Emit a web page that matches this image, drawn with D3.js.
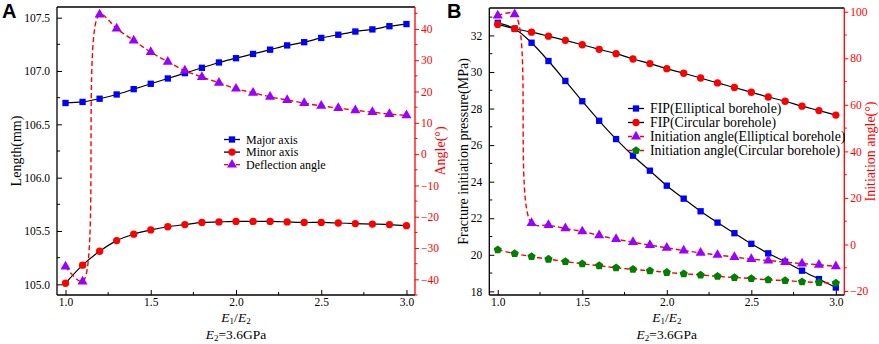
<HTML>
<head>
    <script src="https://d3js.org/d3.v7.min.js"></script>
    <style>
        html, body { margin: 0; padding: 0; background: #fff; }
        svg { display: block; }
    </style>
</head>
<body>
<svg id="chart" width="879" height="344"></svg>
<script>
    // ratio E1/E2, same for every series
    const ratio = [1.0,1.1,1.2,1.3,1.4,1.5,1.6,1.7,1.8,1.9,2.0,2.1,2.2,2.3,2.4,2.5,2.6,2.7,2.8,2.9,3.0];

    // panel A
    const majorAxis = [106.70,106.71,106.74,106.78,106.83,106.88,106.93,106.98,107.03,107.08,107.12,107.16,107.20,107.24,107.27,107.31,107.34,107.37,107.39,107.42,107.44];
    const minorAxis = [105.01,105.18,105.31,105.41,105.47,105.51,105.54,105.56,105.58,105.585,105.59,105.59,105.59,105.585,105.58,105.58,105.575,105.57,105.565,105.56,105.55];
    const deflectionAngle = [-35.9,-40.7,44.6,40.1,36.3,32.6,29.5,26.7,24.6,22.8,20.9,19.6,18.3,17.3,16.3,15.4,14.7,14.0,13.4,12.8,12.4];

    // panel B
    const fipElliptical = [32.69,32.37,31.60,30.60,29.51,28.40,27.33,26.33,25.42,24.60,23.78,23.07,22.38,21.76,21.18,20.60,20.08,19.62,19.13,18.67,18.21];
    const fipCircular = [32.60,32.37,32.18,31.96,31.73,31.49,31.24,31.00,30.71,30.46,30.18,29.93,29.67,29.40,29.15,28.89,28.63,28.40,28.13,27.89,27.64];
    const angleElliptical = [98.3,98.9,9.2,8.3,6.9,5.6,3.9,2.3,1.0,-0.3,-1.4,-2.6,-3.6,-4.5,-5.4,-6.3,-6.9,-7.6,-8.2,-8.7,-9.4];
    const angleCircular = [-2.3,-3.9,-5.2,-6.3,-7.3,-8.3,-9.1,-10.0,-10.7,-11.3,-12.0,-12.6,-13.1,-13.7,-14.2,-14.6,-15.2,-15.5,-16.0,-16.3,-16.6];

    // tick labels
    const xTicks = [1.0,1.5,2.0,2.5,3.0];
    const aLeftTicks = [105.0,105.5,106.0,106.5,107.0,107.5];
    const aRightTicks = [-40,-30,-20,-10,0,10,20,30,40];
    const bLeftTicks = [18,20,22,24,26,28,30,32];
    const bRightTicks = [-20,0,20,40,60,80,100];

    const svg = d3.select("#chart");
    const SERIF = "'Liberation Serif', 'Times New Roman', serif";
    const RED = "#ff0000", BLUE = "#0000ff", PURPLE = "#9900ff", GREEN = "#008000";

    function pentagon(r) {
        const pts = d3.range(5).map(i => {
            const a = -Math.PI / 2 + i * 2 * Math.PI / 5;
            return [r * Math.cos(a), r * Math.sin(a)];
        });
        return "M" + pts.join("L") + "Z";
    }
    const shapes = {
        square: d3.symbol(d3.symbolSquare, 40)(),
        circle: d3.symbol(d3.symbolCircle, 42)(),
        triangle: d3.symbol(d3.symbolTriangle, 44)(),
        pentagon: pentagon(4.3)
    };

    function drawPanel(p) {
        const g = svg.append("g").attr("font-family", SERIF);
        const x = d3.scaleLinear().domain([0.95, 3.05]).range([p.left, p.right]);
        const yL = d3.scaleLinear().domain(p.leftDomain).range([p.bottom, p.top]);
        const yR = d3.scaleLinear().domain(p.rightDomain).range([p.bottom, p.top]);

        // frame top
        g.append("line").attr("x1", p.left).attr("x2", p.right).attr("y1", p.top).attr("y2", p.top)
            .attr("stroke", "black").attr("stroke-width", 1.3);

        // bottom axis, ticks inward
        const xAxis = g.append("g").attr("transform", `translate(0,${p.bottom})`)
            .call(d3.axisBottom(x).tickValues(xTicks).tickSize(-5).tickPadding(3).tickFormat(d3.format(".1f")));
        xAxis.append("g").selectAll("line").data(d3.range(1.25, 3, 0.5)).join("line")
            .attr("x1", d => x(d)).attr("x2", d => x(d)).attr("y1", 0).attr("y2", -3).attr("stroke", "black");

        // left axis, ticks inward
        const lAxis = g.append("g").attr("transform", `translate(${p.left},0)`)
            .call(d3.axisLeft(yL).tickValues(p.leftTicks).tickSize(-5).tickPadding(7).tickFormat(p.leftFormat));
        lAxis.append("g").selectAll("line").data(p.leftMinor).join("line")
            .attr("y1", d => yL(d)).attr("y2", d => yL(d)).attr("x1", 0).attr("x2", 3).attr("stroke", "black");

        // right axis in red, ticks outward
        const rAxis = g.append("g").attr("transform", `translate(${p.right},0)`)
            .call(d3.axisRight(yR).tickValues(p.rightTicks).tickSize(4).tickPadding(2));
        rAxis.append("g").selectAll("line").data(p.rightMinor).join("line")
            .attr("y1", d => yR(d)).attr("y2", d => yR(d)).attr("x1", 0).attr("x2", 2.5).attr("stroke", RED);
        rAxis.selectAll("path,line").attr("stroke", RED);
        rAxis.selectAll("text").attr("fill", RED);

        [xAxis, lAxis, rAxis].forEach(a => {
            a.attr("font-family", SERIF).attr("font-size", 11.5);
            a.select(".domain").attr("stroke-width", 1.3);
        });
        xAxis.select(".domain").attr("d", `M${p.left},0H${p.right}`);
        lAxis.select(".domain").attr("d", `M0,${p.bottom}V${p.top}`);
        rAxis.select(".domain").attr("d", `M0,${p.bottom}V${p.top}`);

        // series
        p.series.forEach(s => {
            const y = s.axis === "right" ? yR : yL;
            const line = d3.line().x((d, i) => x(ratio[i])).y(d => y(d)).curve(d3.curveCatmullRom.alpha(0.5));
            g.append("path").datum(s.values).attr("fill", "none")
                .attr("stroke", s.lineColor).attr("stroke-width", s.dashed ? 1.4 : 1.2)
                .attr("stroke-dasharray", s.dashed ? "5,3" : null)
                .attr("d", line);
        });
        p.series.forEach(s => {
            const y = s.axis === "right" ? yR : yL;
            g.append("g").selectAll("path").data(s.values).join("path")
                .attr("transform", (d, i) => `translate(${x(ratio[i])},${y(d)})`)
                .attr("d", shapes[s.shape]).attr("fill", s.color);
        });

        // legend
        const lg = g.append("g");
        p.series.forEach((s, i) => {
            const ly = p.legendY + i * p.legendStep;
            lg.append("line").attr("x1", p.legendX).attr("x2", p.legendX + 16).attr("y1", ly).attr("y2", ly)
                .attr("stroke", s.lineColor).attr("stroke-width", 1.3).attr("stroke-dasharray", s.dashed ? "4,2" : null);
            lg.append("path").attr("transform", `translate(${p.legendX + 8},${ly})`).attr("d", shapes[s.shape]).attr("fill", s.color);
            lg.append("text").attr("x", p.legendX + 22).attr("y", ly).attr("dy", "0.35em")
                .style("font-size", p.legendFont + "px").text(s.name);
        });

        // axis titles
        g.append("text").attr("transform", `translate(${p.leftTitleX},${(p.top + p.bottom) / 2}) rotate(-90)`)
            .attr("text-anchor", "middle").style("font-size", "14px").text(p.leftTitle);
        g.append("text").attr("transform", `translate(${p.rightTitleX},${(p.top + p.bottom) / 2}) rotate(-90)`)
            .attr("text-anchor", "middle").style("font-size", "14px").attr("fill", RED).text(p.rightTitle);

        const cx = x(2.0);
        const t1 = g.append("text").attr("x", cx).attr("y", 322).attr("text-anchor", "middle").style("font-size", "13.5px");
        t1.append("tspan").style("font-style", "italic").text("E");
        t1.append("tspan").attr("dy", 2).style("font-size", "9px").text("1");
        t1.append("tspan").attr("dy", -2).text("/");
        t1.append("tspan").style("font-style", "italic").text("E");
        t1.append("tspan").attr("dy", 2).style("font-size", "9px").text("2");
        const t2 = g.append("text").attr("x", cx).attr("y", 338.5).attr("text-anchor", "middle").style("font-size", "13.5px");
        t2.append("tspan").style("font-style", "italic").text("E");
        t2.append("tspan").attr("dy", 2).style("font-size", "9px").text("2");
        t2.append("tspan").attr("dy", -2).text("=3.6GPa");

        // panel letter
        g.append("text").attr("x", p.letterX).attr("y", 18)
            .style("font-family", "'Liberation Sans', Arial, sans-serif").style("font-weight", "bold")
            .style("font-size", "20px").text(p.letter);
    }

    drawPanel({
        letter: "A", letterX: 2,
        left: 57, right: 415, top: 7, bottom: 295,
        leftDomain: [104.9, 107.6], rightDomain: [-45, 47],
        leftTicks: aLeftTicks, leftMinor: d3.range(105.25, 107.6, 0.5), leftFormat: d3.format(".1f"),
        rightTicks: aRightTicks, rightMinor: d3.range(-45, 46, 10),
        leftTitle: "Length(mm)", leftTitleX: 21, rightTitle: "Angle(°)", rightTitleX: 445,
        legendX: 224, legendY: 139.5, legendStep: 12.6, legendFont: 12,
        series: [
            { name: "Major axis", values: majorAxis, axis: "left", shape: "square", color: BLUE, lineColor: "black" },
            { name: "Minor axis", values: minorAxis, axis: "left", shape: "circle", color: RED, lineColor: "black" },
            { name: "Deflection angle", values: deflectionAngle, axis: "right", shape: "triangle", color: PURPLE, lineColor: RED, dashed: true }
        ]
    });

    drawPanel({
        letter: "B", letterX: 447,
        left: 489.3, right: 844.3, top: 8, bottom: 295,
        leftDomain: [17.8, 33.5], rightDomain: [-21.7, 101.6],
        leftTicks: bLeftTicks, leftMinor: d3.range(19, 33.5, 2), leftFormat: d3.format("d"),
        rightTicks: bRightTicks, rightMinor: d3.range(-10, 101, 20),
        leftTitle: "Fracture initiation pressure(MPa)", leftTitleX: 468, rightTitle: "Initiation angle(°)", rightTitleX: 875,
        legendX: 628, legendY: 108.5, legendStep: 14, legendFont: 13.8,
        series: [
            { name: "FIP(Elliptical borehole)", values: fipElliptical, axis: "left", shape: "square", color: BLUE, lineColor: "black" },
            { name: "FIP(Circular borehole)", values: fipCircular, axis: "left", shape: "circle", color: RED, lineColor: "black" },
            { name: "Initiation angle(Elliptical borehole)", values: angleElliptical, axis: "right", shape: "triangle", color: PURPLE, lineColor: RED, dashed: true },
            { name: "Initiation angle(Circular borehole)", values: angleCircular, axis: "right", shape: "pentagon", color: GREEN, lineColor: RED, dashed: true }
        ]
    });
</script>
</body>
</HTML>
